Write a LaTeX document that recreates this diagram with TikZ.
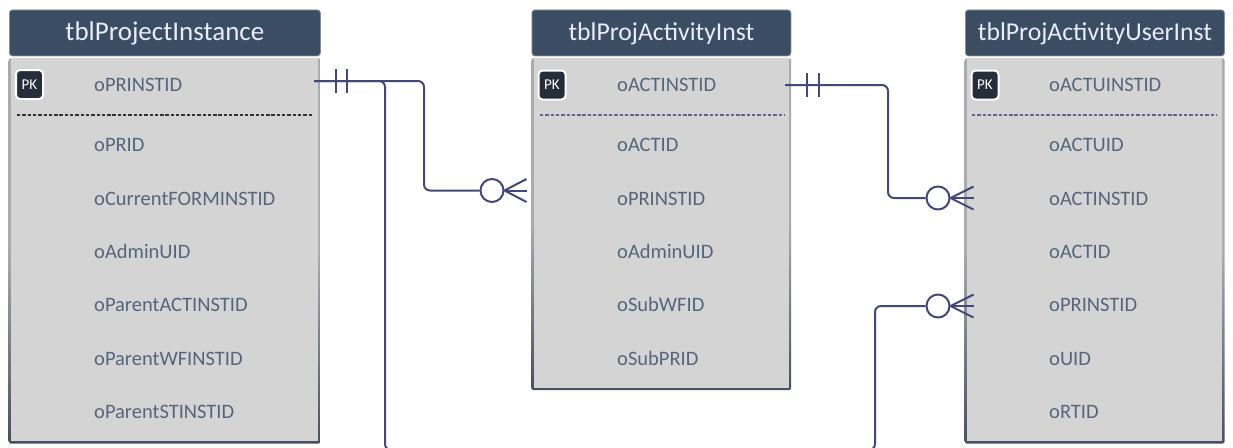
\documentclass[tikz,border=0pt]{standalone}
\usepackage{fontspec}
\setmainfont{Carlito}
\definecolor{tblhead}{HTML}{3B4D63}
\definecolor{tblrim}{HTML}{A9ABAE}
\definecolor{tblbase}{HTML}{46505E}
\definecolor{tblfill}{HTML}{D4D4D4}
\definecolor{fieldtxt}{HTML}{54657C}
\definecolor{relcol}{HTML}{43487A}
\definecolor{pkfill}{HTML}{252E3A}
\tikzset{
  tblframe/.style = {rectangle, rounded corners=2.5pt, top color=tblrim, bottom color=tblbase, middle color=tblrim, inner sep=0pt, anchor=north west},
  tblbody/.style = {rectangle, fill=tblfill, inner sep=0pt, anchor=north west},
  tblhdr/.style = {rectangle, rounded corners=3pt, fill=tblhead, draw=tblrim!70!tblhead, line width=0.8pt, text=white!92!blue, font=\fontsize{27}{30}\selectfont, text height=20pt, text depth=5pt, inner sep=0pt, anchor=north west},
  tblhdrnarrow/.style = {tblhdr, font=\fontsize{25.7}{30}\selectfont},
  fieldname/.style = {anchor=base west, yshift=-7pt, inner sep=0pt, text=fieldtxt, font=\fontsize{20.5}{24}\selectfont},
  pkbadge/.style = {rectangle, rounded corners=4pt, fill=pkfill, draw=white, line width=2pt, minimum width=27pt, minimum height=29pt, inner sep=0pt, text=white, font=\fontsize{15}{16}\selectfont},
  keyline/.style = {dash pattern=on 3.4pt off 1.9pt, line width=1.7pt},
  relline/.style = {draw=relcol, line width=2pt},
  crowring/.style = {circle, draw=relcol, fill=white, line width=2pt, minimum size=23pt, inner sep=0pt},
  onetick/.style = {rectangle, fill=relcol, minimum width=2.4pt, minimum height=24pt, inner sep=0pt},
}
\begin{document}
\begin{tikzpicture}[x=1pt,y=-1pt]
\useasboundingbox (0,0) rectangle (1233,447);
\clip (0,0) rectangle (1233,447);

% tblProjectInstance
\node [tblframe, minimum width=312pt, minimum height=385.5pt] (frameA) at (8.5,58) {};
\node [tblbody, minimum width=307pt, minimum height=383pt] (bodyA) at (11,58) {};
\node [tblhdr, minimum width=311pt, minimum height=46pt] (headA) at (9,9.5) {tblProjectInstance};
\node [pkbadge] (pkA) at (29.5,84.5) {PK};
\node [fieldname] (a1) at (94,84) {oPRINSTID};
\coordinate (dashAl) at (17,115);
\coordinate (dashAr) at (312,115);
\draw [keyline, draw=black!80] (dashAl) -- (dashAr);
\node [fieldname] (a2) at (94,144) {oPRID};
\node [fieldname] (a3) at (94,198) {oCurrentFORMINSTID};
\node [fieldname] (a4) at (94,251) {oAdminUID};
\node [fieldname] (a5) at (94,304) {oParentACTINSTID};
\node [fieldname] (a6) at (94,358) {oParentWFINSTID};
\node [fieldname] (a7) at (94,411) {oParentSTINSTID};

% tblProjActivityInst
\node [tblframe, minimum width=260pt, minimum height=332pt] (frameB) at (531,58) {};
\node [tblbody, minimum width=255pt, minimum height=329.5pt] (bodyB) at (533.5,58) {};
\node [tblhdrnarrow, minimum width=259pt, minimum height=46pt] (headB) at (531.5,9.5) {tblProjActivityInst};
\node [pkbadge] (pkB) at (552,85) {PK};
\node [fieldname] (b1) at (617,84) {oACTINSTID};
\coordinate (dashBl) at (540,115);
\coordinate (dashBr) at (784,115);
\draw [keyline, draw=relcol!85!white] (dashBl) -- (dashBr);
\node [fieldname] (b2) at (617,144) {oACTID};
\node [fieldname] (b3) at (617,198) {oPRINSTID};
\node [fieldname] (b4) at (617,251) {oAdminUID};
\node [fieldname] (b5) at (617,304) {oSubWFID};
\node [fieldname] (b6) at (617,358) {oSubPRID};

% tblProjActivityUserInst
\node [tblframe, minimum width=260pt, minimum height=385.5pt] (frameC) at (964.5,58) {};
\node [tblbody, minimum width=255pt, minimum height=383pt] (bodyC) at (967,58) {};
\node [tblhdrnarrow, minimum width=259pt, minimum height=46pt] (headC) at (965,9.5) {tblProjActivityUserInst};
\node [pkbadge] (pkC) at (985,85) {PK};
\node [fieldname] (c1) at (1049,84) {oACTUINSTID};
\coordinate (dashCl) at (972,115);
\coordinate (dashCr) at (1216,115);
\draw [keyline, draw=relcol!85!white] (dashCl) -- (dashCr);
\node [fieldname] (c2) at (1049,144) {oACTUID};
\node [fieldname] (c3) at (1049,198) {oACTINSTID};
\node [fieldname] (c4) at (1049,251) {oACTID};
\node [fieldname] (c5) at (1049,304) {oPRINSTID};
\node [fieldname] (c6) at (1049,358) {oUID};
\node [fieldname] (c7) at (1049,411) {oRTID};

% relations
\coordinate (outA) at (314,81);
\coordinate (outB) at (785,85);
\node [crowring] (ringA) at (492,190.5) {};
\node [crowring] (ringB) at (938,198) {};
\node [crowring] (ringC) at (938,306) {};
\draw [relline, rounded corners=6pt] (outA) -- ++(110,0) |- (ringA);
\draw [relline, rounded corners=6pt] (outA) -- ++(71,0) -- ++(0,369) -- ++(490,0) |- (ringC);
\draw [relline, rounded corners=6pt] (outB) -- ++(103,0) |- (ringB);
\node [onetick] (tickA1) at (336,81) {};
\node [onetick] (tickA2) at (347,81) {};
\node [onetick] (tickB1) at (807,85) {};
\node [onetick] (tickB2) at (819,85) {};
\draw [relline] (ringA.east) -- ++(22,-11.5);
\draw [relline] (ringA.east) -- ++(22,0);
\draw [relline] (ringA.east) -- ++(22,11.5);
\draw [relline] (ringB.east) -- ++(23,-11.5);
\draw [relline] (ringB.east) -- ++(23,0);
\draw [relline] (ringB.east) -- ++(23,11.5);
\draw [relline] (ringC.east) -- ++(23,-11.5);
\draw [relline] (ringC.east) -- ++(23,0);
\draw [relline] (ringC.east) -- ++(23,11.5);
\end{tikzpicture}
\end{document}
